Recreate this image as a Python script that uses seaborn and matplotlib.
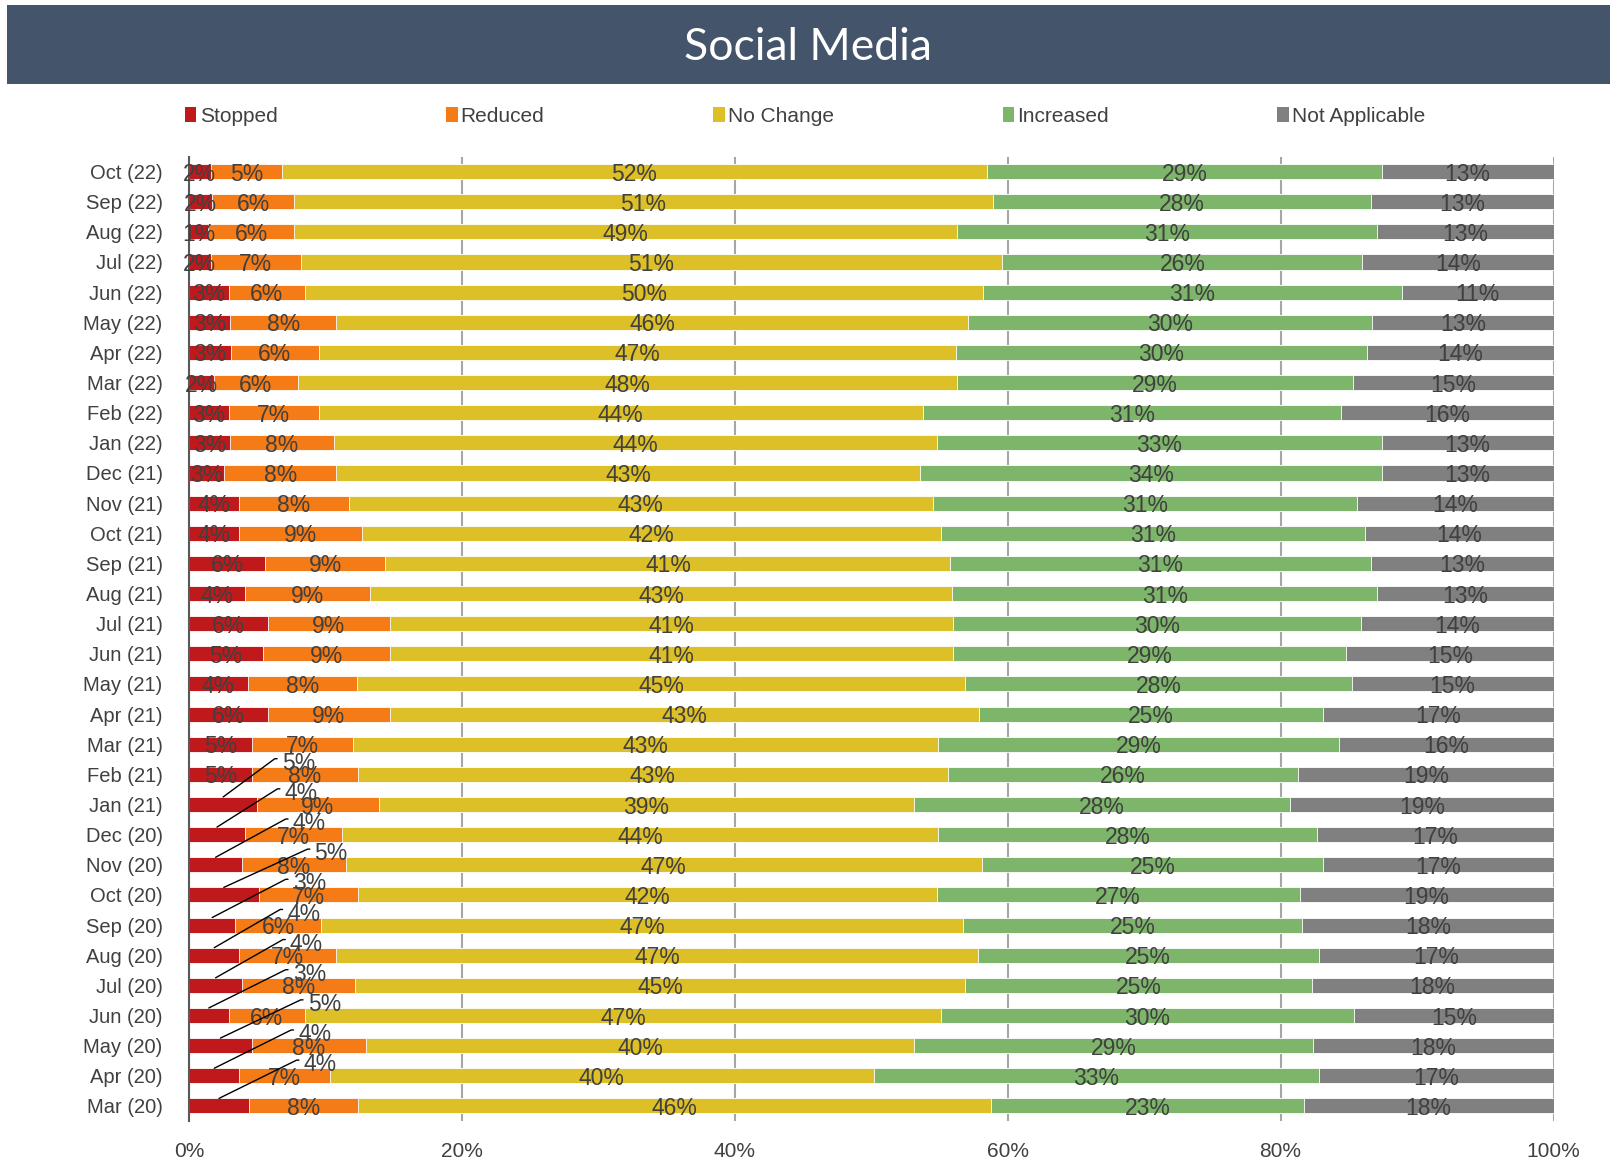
import matplotlib
matplotlib.use("Agg")
import matplotlib.pyplot as plt
from matplotlib.patches import Rectangle, Patch
import seaborn as sns
import pandas as pd

# survey months, top row first
months = ["Oct (22)", "Sep (22)", "Aug (22)", "Jul (22)", "Jun (22)", "May (22)",
          "Apr (22)", "Mar (22)", "Feb (22)", "Jan (22)", "Dec (21)", "Nov (21)",
          "Oct (21)", "Sep (21)", "Aug (21)", "Jul (21)", "Jun (21)", "May (21)",
          "Apr (21)", "Mar (21)", "Feb (21)", "Jan (21)", "Dec (20)", "Nov (20)",
          "Oct (20)", "Sep (20)", "Aug (20)", "Jul (20)", "Jun (20)", "May (20)",
          "Apr (20)", "Mar (20)"]

stopped = [1.6, 1.7, 1.4, 1.6, 2.9, 3.0, 3.1, 1.8, 2.9, 3.0, 2.6, 3.7, 3.7, 5.6, 4.1, 5.8,
           5.4, 4.3, 5.8, 4.6, 4.6, 5.0, 4.1, 3.9, 5.1, 3.4, 3.7, 3.9, 2.9, 4.6, 3.7, 4.4]
reduced = [5.2, 6.0, 6.3, 6.6, 5.6, 7.8, 6.4, 6.2, 6.6, 7.6, 8.2, 8.0, 9.0, 8.8, 9.2, 8.9,
           9.3, 8.0, 8.9, 7.4, 7.8, 8.9, 7.1, 7.6, 7.3, 6.3, 7.1, 8.3, 5.6, 8.4, 6.6, 8.0]
no_change = [51.7, 51.2, 48.6, 51.4, 49.7, 46.3, 46.7, 48.3, 44.3, 44.2, 42.8, 42.8, 42.4, 41.4,
             42.6, 41.3, 41.3, 44.6, 43.2, 42.9, 43.2, 39.2, 43.7, 46.6, 42.4, 47.0, 47.0, 44.7,
             46.6, 40.1, 39.9, 46.4]
increased = [28.9, 27.7, 30.8, 26.4, 30.7, 29.6, 30.1, 29.0, 30.6, 32.6, 33.8, 31.1, 31.1, 30.8,
             31.2, 29.9, 28.8, 28.3, 25.2, 29.4, 25.7, 27.6, 27.8, 25.0, 26.6, 24.9, 25.0, 25.4,
             30.3, 29.3, 32.6, 22.9]
not_applicable = [12.6, 13.4, 12.9, 14.0, 11.1, 13.3, 13.7, 14.7, 15.6, 12.6, 12.6, 14.4, 13.8,
                  13.4, 12.9, 14.1, 15.2, 14.8, 16.9, 15.7, 18.7, 19.3, 17.3, 16.9, 18.6, 18.4,
                  17.2, 17.7, 14.6, 17.6, 17.2, 18.3]

series_names = ["Stopped", "Reduced", "No Change", "Increased", "Not Applicable"]
series_colors = ["#C0191C", "#F47B16", "#DDBF27", "#7DB66A", "#808080"]

# from this month down, the "Stopped" label is drawn as a callout
first_callout = "Jan (21)"
# where each callout text starts (x, in % of the axis), Jan (21) .. Mar (20)
callout_text_x = [6.8, 7.0, 7.6, 9.2, 7.6, 7.2, 7.4, 7.6, 8.7, 8.0, 8.4]

sns.set_theme(style="white")
plt.rcParams["font.family"] = ["Liberation Sans", "DejaVu Sans"]
text_color = "#404040"
fs = 14.5
label_fs = 16.5

df = pd.DataFrame({"month": months, "Stopped": stopped, "Reduced": reduced,
                   "No Change": no_change, "Increased": increased,
                   "Not Applicable": not_applicable})
cum = df[series_names].cumsum(axis=1)
cum["month"] = df["month"]

W, H = 1610, 1162
fig = plt.figure(figsize=(W / 100, H / 100), dpi=100)

# title band
fig.add_artist(Rectangle((7 / W, 1 - 84 / H), 1 - 7 / W, 79 / H, transform=fig.transFigure,
                         facecolor="#44546A", edgecolor="none"))
fig.text(808 / W, 1 - 47 / H, "Social Media", color="white", fontsize=32,
         family=["Lato", "DejaVu Sans"], ha="center", va="center")

ax = fig.add_axes([189 / W, 1 - 1121 / H, (1553.5 - 189) / W, (1121 - 156.5) / H])

# stacked bars: draw the cumulative totals from the last series back
for name, color in reversed(list(zip(series_names, series_colors))):
    sns.barplot(data=cum, x=name, y="month", orient="h", color=color, saturation=1,
                width=0.5, edgecolor="white", linewidth=0.6, errorbar=None, ax=ax)

# data labels
callout_start = months.index(first_callout)
for i, month in enumerate(months):
    for name in series_names:
        v = df.loc[i, name]
        end = cum.loc[i, name]
        label = f"{v:.0f}%"
        if name == "Stopped" and i >= callout_start:
            tx = callout_text_x[i - callout_start]
            ax.annotate(label, xy=(v / 2, i - 0.25), xytext=(tx, i - 1.45),
                        ha="left", va="center_baseline", fontsize=label_fs, color=text_color,
                        arrowprops=dict(arrowstyle="-", color="black", lw=1,
                                        shrinkA=1, shrinkB=0, relpos=(0, 0.7),
                                        connectionstyle="arc,angleA=180,armA=7,angleB=0,armB=0,rad=0"))
        else:
            ax.text(end - v / 2, i, label, ha="center", va="center_baseline",
                    fontsize=label_fs, color=text_color)

ax.set_xlim(0, 100)
ax.set_ylim(len(months) - 0.5, -0.5)
ax.set_xticks([0, 20, 40, 60, 80, 100])
ax.set_xticklabels([f"{t}%" for t in [0, 20, 40, 60, 80, 100]])
ax.set_xlabel("")
ax.set_ylabel("")
ax.tick_params(axis="x", length=0, pad=15, labelsize=15, labelcolor=text_color)
ax.tick_params(axis="y", length=0, pad=19, labelsize=fs, labelcolor=text_color)
ax.grid(axis="x", color="#A6A6A6", lw=1.5)
ax.grid(axis="y", visible=False)
ax.set_axisbelow(True)
for side in ["top", "right", "bottom"]:
    ax.spines[side].set_visible(False)
ax.spines["left"].set_color("#595959")
ax.spines["left"].set_linewidth(1.5)

handles = [Patch(facecolor=c, edgecolor="none") for c in series_colors]
fig.legend(handles, series_names, ncol=5, loc="center left",
           bbox_to_anchor=(185 / W, 1 - 116 / H), frameon=False, fontsize=15,
           labelcolor=text_color, handlelength=0.55, handleheight=0.75,
           handletextpad=0.15, columnspacing=8.1, borderpad=0, borderaxespad=0)

fig.savefig("out.png", dpi=100)
